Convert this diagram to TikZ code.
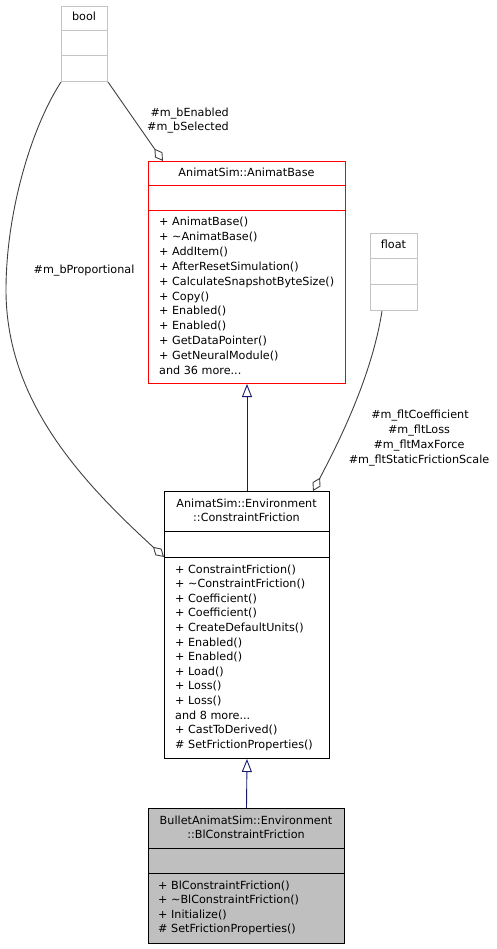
\documentclass[tikz,border=0pt]{standalone}
\usepackage{fontspec}
\setmainfont{DejaVu Sans}
\usetikzlibrary{arrows.meta,calc}
\definecolor{edgegray}{RGB}{64,64,64}
\definecolor{inhblue}{RGB}{25,25,112}
\definecolor{lightborder}{RGB}{196,196,196}
\definecolor{fillgray}{RGB}{191,191,191}
\newcommand\dfs{\fontsize{11.2}{14.6}\selectfont}
\newcommand\mydots{...}
\tikzset{
  classbox/.style={draw, line width=1pt, inner sep=0pt, anchor=north west},
  lightbox/.style={classbox, draw=lightborder},
  redbox/.style={classbox, draw=red},
  blackbox/.style={classbox, draw=black},
  graybox/.style={classbox, draw=black, fill=fillgray},
  divline/.style={line width=1pt},
  mem/.style={anchor=base west, inner sep=0pt, font=\dfs},
  ttl/.style={anchor=base, inner sep=0pt, font=\dfs},
  lbl/.style={inner sep=0pt, font=\dfs},
  agg/.style={draw=edgegray, line width=0.9pt, -{Diamond[open, length=15pt, width=9pt, line width=0.9pt]}},
  inh/.style={draw=inhblue, line width=0.9pt, -{Triangle[open, length=13pt, width=10pt, line width=0.9pt]}}
}
\begin{document}
\begin{tikzpicture}[x=1pt,y=-1pt]
\useasboundingbox (0,0) rectangle (496,949);
% bool
\node[lightbox, minimum width=46pt, minimum height=75pt] (bool) at (61,6) {};
\draw[divline, lightborder] (61,31) -- (107,31);
\draw[divline, lightborder] (61,56) -- (107,56);
\node[ttl] (boolt) at (84,21) {bool};
% float
\node[lightbox, minimum width=47pt, minimum height=77pt] (float) at (370,233) {};
\draw[divline, lightborder] (370,259) -- (417,259);
\draw[divline, lightborder] (370,284) -- (417,284);
\node[ttl] (floatt) at (393.5,249) {float};
% AnimatBase
\node[redbox, minimum width=197pt, minimum height=222pt] (ab) at (148,161) {};
\draw[divline, red] (148,186) -- (345,186);
\draw[divline, red] (148,211) -- (345,211);
\node[ttl] (abt) at (246.5,177) {AnimatSim::AnimatBase};
\foreach \t [count=\i from 0] in {{+ AnimatBase()}, {+ \textasciitilde AnimatBase()}, {+ AddItem()}, {+ AfterResetSimulation()}, {+ CalculateSnapshotByteSize()}, {+ Copy()}, {+ Enabled()}, {+ Enabled()}, {+ GetDataPointer()}, {+ GetNeuralModule()}, {and 36 more\mydots}}
  \node[mem] (abm\i) at (159,226+14.8*\i) {\t};
% ConstraintFriction
\node[blackbox, minimum width=165pt, minimum height=267pt] (cf) at (164,491) {};
\draw[divline] (164,531) -- (329,531);
\draw[divline] (164,557) -- (329,557);
\node[ttl] (cft1) at (246.5,507) {AnimatSim::Environment};
\node[ttl] (cft2) at (246.5,521) {::ConstraintFriction};
\foreach \t [count=\i from 0] in {{+ ConstraintFriction()}, {+ \textasciitilde ConstraintFriction()}, {+ Coefficient()}, {+ Coefficient()}, {+ CreateDefaultUnits()}, {+ Enabled()}, {+ Enabled()}, {+ Load()}, {+ Loss()}, {+ Loss()}, {and 8 more\mydots}, {+ CastToDerived()}, {\# SetFrictionProperties()}}
  \node[mem] (cfm\i) at (175,573+14.6*\i) {\t};
% BlConstraintFriction
\node[graybox, minimum width=196pt, minimum height=135pt] (bl) at (148,808) {};
\draw[divline] (148,848) -- (344,848);
\draw[divline] (148,873) -- (344,873);
\node[ttl] (blt1) at (246,824) {BulletAnimatSim::Environment};
\node[ttl] (blt2) at (246,838) {::BlConstraintFriction};
\foreach \t [count=\i from 0] in {{+ BlConstraintFriction()}, {+ \textasciitilde BlConstraintFriction()}, {+ Initialize()}, {\# SetFrictionProperties()}}
  \node[mem] (blm\i) at (158,889+14.6*\i) {\t};
% edges
\draw[agg] (bool.south east) -- ($(ab.north west)+(15,0)$);
\draw[agg] (bool.south west) .. controls (30,130) and (6,215) .. (6,290)
  .. controls (6,400) and (80,480) .. ($(cf.north west)+(0,66)$);
\draw[agg] ($(float.south west)+(12,0)$) .. controls (372,375) and (340,440) .. ($(cf.north east)+(-17,0)$);
\draw[inh] (cf.north) -- (ab.south);
\draw[inh] (bl.north) -- (cf.south);
% labels
\node[lbl, anchor=base east] (lb1) at (229,117) {\#m\_bEnabled};
\node[lbl, anchor=base east] (lb2) at (229,131) {\#m\_bSelected};
\node[lbl, anchor=base] (lb3) at (84,274) {\#m\_bProportional};
\node[lbl, anchor=base] (lf1) at (420,418) {\#m\_fltCoefficient};
\node[lbl, anchor=base] (lf2) at (419,433) {\#m\_fltLoss};
\node[lbl, anchor=base] (lf3) at (419,448) {\#m\_fltMaxForce};
\node[lbl, anchor=base] (lf4) at (419,463) {\#m\_fltStaticFrictionScale};
\end{tikzpicture}
\end{document}
